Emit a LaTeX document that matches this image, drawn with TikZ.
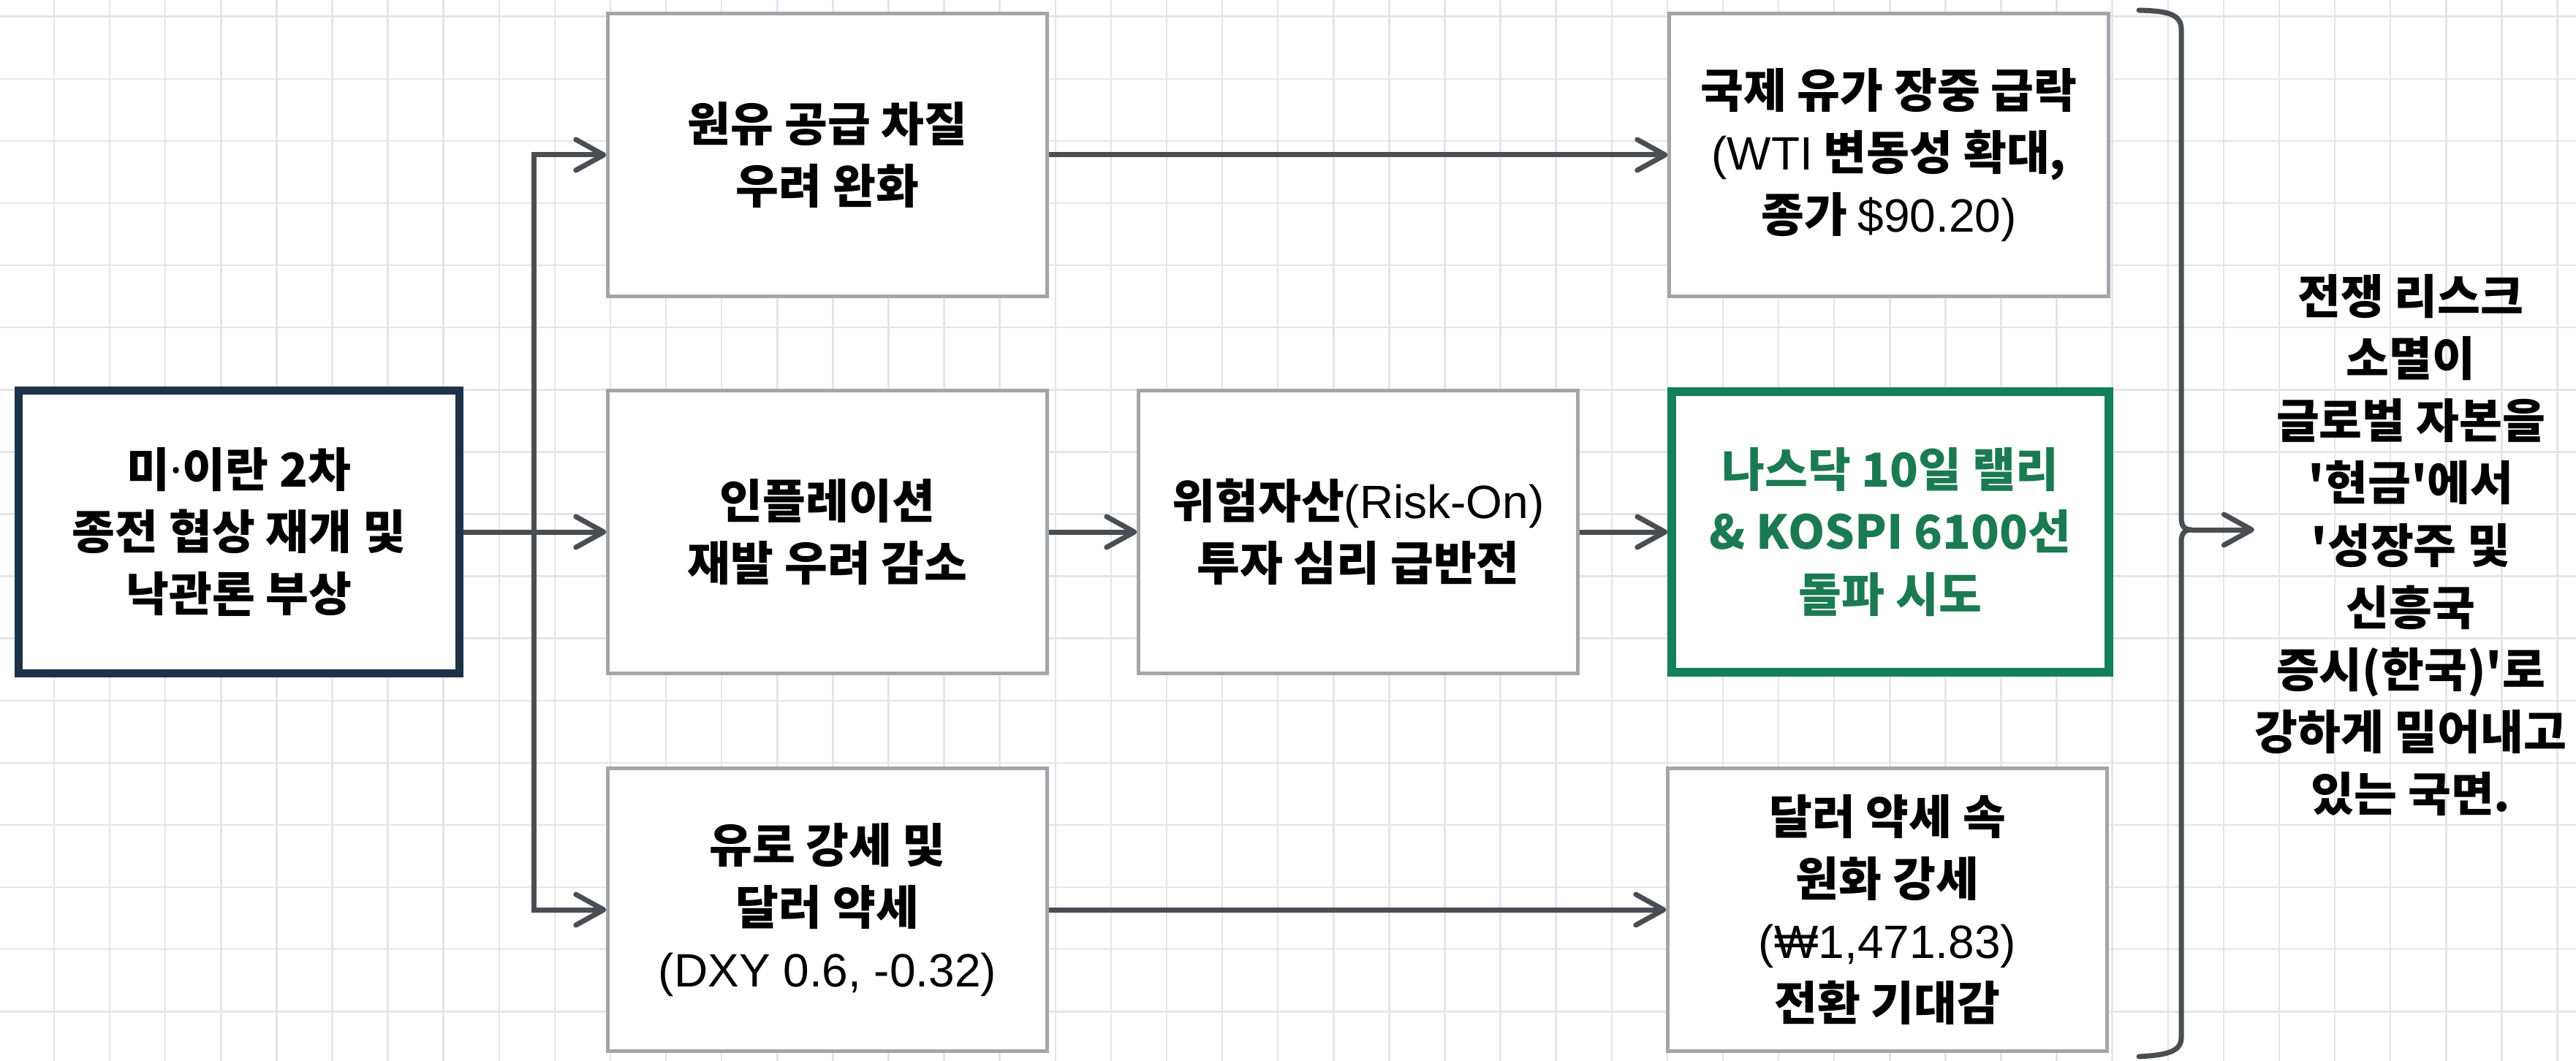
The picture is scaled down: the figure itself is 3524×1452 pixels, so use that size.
\documentclass[tikz,border=0pt]{standalone}
\usepackage{fontspec}
\setmainfont{Noto Sans CJK KR}
\newfontfamily\lat{Liberation Sans}
\newfontfamily\dotfont{Noto Sans}
\usetikzlibrary{arrows.meta}
\definecolor{gridc}{HTML}{E3E5E8}
\definecolor{boxgray}{HTML}{A2A5A9}
\definecolor{navy}{HTML}{1D3149}
\definecolor{grn}{HTML}{137F5B}
\definecolor{grntext}{HTML}{1B7A52}
\definecolor{arrc}{HTML}{4A4E53}
\newcommand{\rg}[1]{{\lat\mdseries #1}}
\newcommand{\sq}{\textquotesingle}
\begin{document}
\begin{tikzpicture}[x=0.01cm,y=-0.01cm,
  every node/.style={font=\fontsize{18.2pt}{24.2pt}\selectfont\bfseries, align=center, inner sep=0pt},
  gbox/.style={draw=boxgray, fill=white, line width=0.05cm, minimum width=6.0cm, minimum height=3.87cm},
  mainbox/.style={draw=navy, fill=white, line width=0.11cm, minimum width=6.02cm, minimum height=3.87cm},
  hibox/.style={draw=grn, fill=white, line width=0.12cm, minimum width=5.97cm, minimum height=3.83cm, text=grntext},
  conn/.style={draw=arrc, line width=0.07cm},
  chev/.tip={Straight Barb[length=0.38cm,width=0.42cm,round]},
  arr/.style={conn, -chev},
  gridline/.style={draw=gridc, line width=0.025cm}]
\fill[white] (0,0) rectangle (3524,1452);
\useasboundingbox (0,0) rectangle (3524,1452);
\foreach \i in {0,...,45} \draw[gridline] ({74+76.1*\i},0) -- ({74+76.1*\i},1452);
\foreach \j in {0,...,16} \draw[gridline] (0,{22.7+85.1*\j}) -- (3524,{22.7+85.1*\j});

\node[mainbox] (L) at (327,728) {미{\dotfont·}이란 2차\\종전 협상 재개 및\\낙관론 부상};
\node[gbox] (A1) at (1132,212) {원유 공급 차질\\우려 완화};
\node[gbox] (A2) at (1132,728) {인플레이션\\재발 우려 감소};
\node[gbox] (A3) at (1132,1245) {유로 강세 및\\달러 약세\\\rg{(DXY 0.6, -0.32)}};
\node[gbox] (B) at (1858,728) {위험자산\rg{(Risk-On)}\\투자 심리 급반전};
\node[gbox] (C1) at (2584,212) {국제 유가 장중 급락\\\rg{(WTI} 변동성 확대,\\종가 \rg{\$90.20)}};
\node[hibox] (C2) at (2586,728) {나스닥 10일 랠리\\\& KOSPI 6100선\\돌파 시도};
\node[gbox] (C3) at (2582,1245) {달러 약세 속\\원화 강세\\\rg{(₩1,471.83)}\\전환 기대감};
\node (R) at (3298,746) {전쟁 리스크\\소멸이\\글로벌 자본을\\\sq 현금\sq 에서\\\sq 성장주 및\\신흥국\\증시(한국)\sq 로\\강하게 밀어내고\\있는 국면.};

\coordinate (jx) at (730,0);
\draw[conn, chev-chev] (A1.west) -- (jx |- A1.west) -- (jx |- A3.west) -- (A3.west);
\draw[arr] (L.east) -- (A2.west);
\draw[arr] (A1.east) -- (C1.west);
\draw[arr] (A2.east) -- (B.west);
\draw[arr] (B.east) -- (C2.west);
\draw[arr] (A3.east) -- (C3.west);

\coordinate (bt) at (2998,725);
\draw[conn, line cap=round, line join=round]
  (2926,14) .. controls (2962,15) and (2984,18) .. (2984,40) -- (2984,708)
  .. controls (2984,720) and (2988,725) .. (bt)
  .. controls (2988,725) and (2984,730) .. (2984,742) -- (2984,1420)
  .. controls (2984,1440) and (2962,1444) .. (2926,1446);
\draw[arr] (bt) -- (bt -| R.west);
\end{tikzpicture}
\end{document}
